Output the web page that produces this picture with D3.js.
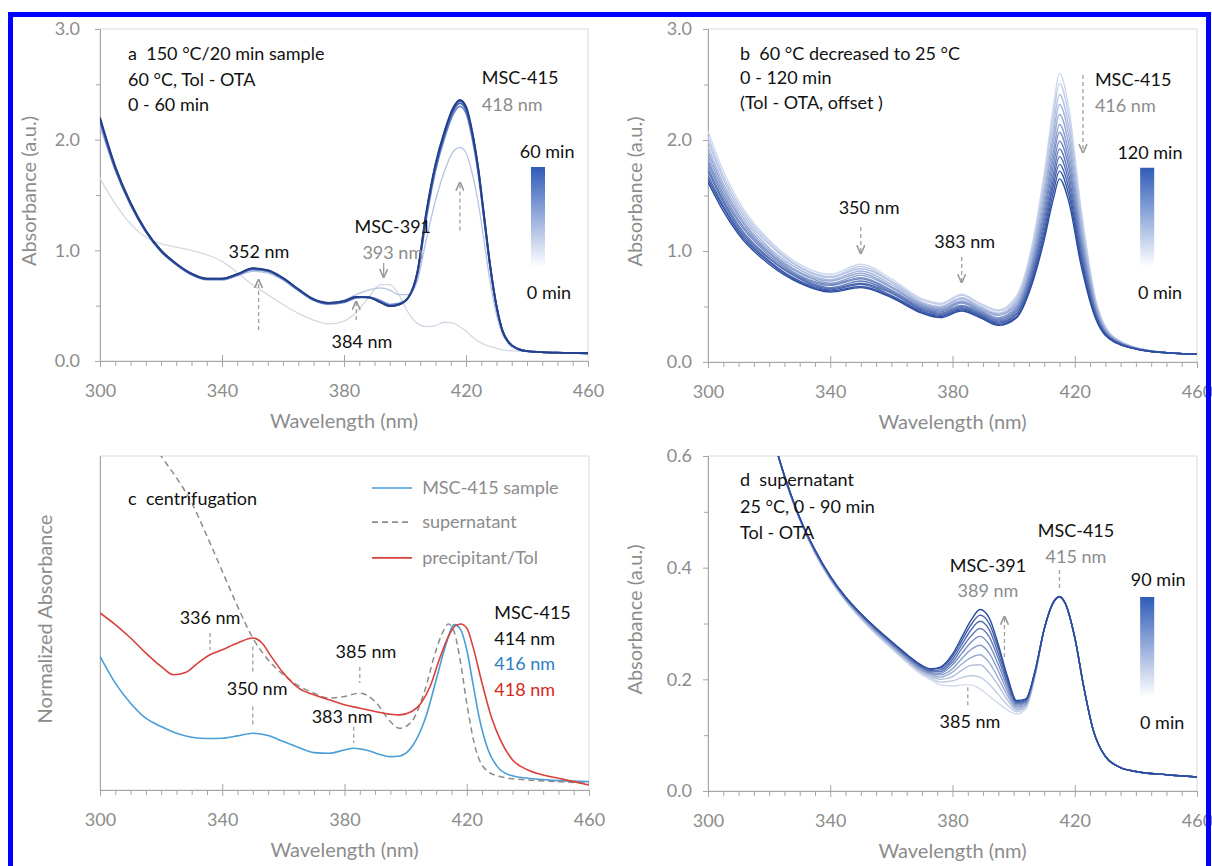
<!DOCTYPE html>
<html>
<head>
<meta charset="utf-8">
<script src="https://cdn.jsdelivr.net/npm/d3@7"></script>
<style>
  body { margin: 0; background: #fff; overflow: hidden; }
  svg text { font-family: Lato, "Open Sans", sans-serif; white-space: pre; }
</style>
</head>
<body>
<div id="chart"></div>
<script>
// ---------- Data ----------
const xTicks = [300, 340, 380, 420, 460];
const xMinor = d3.range(300, 461, 5).filter(v => !xTicks.includes(v));

// panel a: 60 °C, 0 - 60 min
const wlA = [300,305,310,315,320,325,330,335,340,345,350,355,360,365,370,375,380,384,388,392,395,398,401,404,407,410,413,416,418,420,422,424,426,428,430,432,434,437,440,450,460];
const a0min  = [1.65,1.42,1.24,1.12,1.06,1.03,1.00,0.96,0.90,0.80,0.69,0.60,0.51,0.43,0.37,0.335,0.36,0.44,0.57,0.69,0.69,0.60,0.44,0.34,0.31,0.32,0.35,0.34,0.31,0.27,0.22,0.18,0.15,0.13,0.115,0.10,0.095,0.09,0.085,0.075,0.07];
const a10min = [2.12,1.72,1.41,1.17,0.99,0.875,0.785,0.74,0.735,0.77,0.81,0.795,0.73,0.635,0.55,0.52,0.55,0.60,0.64,0.66,0.64,0.60,0.60,0.72,1.10,1.45,1.72,1.90,1.93,1.88,1.70,1.43,1.07,0.70,0.42,0.24,0.15,0.10,0.085,0.075,0.07];
const a30min = [2.16,1.73,1.41,1.17,0.99,0.87,0.78,0.735,0.735,0.775,0.825,0.81,0.74,0.64,0.55,0.515,0.53,0.57,0.58,0.545,0.51,0.52,0.57,0.77,1.29,1.72,2.02,2.24,2.30,2.24,2.02,1.70,1.26,0.83,0.49,0.27,0.17,0.11,0.09,0.075,0.07];
const a40min = [2.18,1.74,1.42,1.17,0.99,0.875,0.785,0.74,0.74,0.78,0.83,0.815,0.745,0.645,0.555,0.52,0.535,0.575,0.575,0.535,0.50,0.515,0.57,0.78,1.32,1.75,2.05,2.27,2.33,2.27,2.05,1.72,1.28,0.84,0.49,0.27,0.17,0.11,0.09,0.075,0.07];
const a50min = [2.19,1.75,1.43,1.18,1.00,0.88,0.79,0.745,0.745,0.785,0.835,0.82,0.75,0.65,0.56,0.525,0.54,0.58,0.575,0.53,0.495,0.51,0.57,0.79,1.34,1.77,2.07,2.29,2.35,2.29,2.07,1.74,1.29,0.84,0.50,0.27,0.17,0.11,0.09,0.075,0.07];
const a60min = [2.20,1.76,1.43,1.18,1.00,0.88,0.79,0.745,0.745,0.785,0.84,0.82,0.75,0.65,0.56,0.525,0.54,0.58,0.575,0.53,0.495,0.51,0.57,0.80,1.35,1.78,2.08,2.30,2.36,2.30,2.08,1.75,1.30,0.85,0.50,0.27,0.17,0.11,0.09,0.075,0.07];

// panel b: 60 °C decreased to 25 °C, 0 - 120 min
const wlB = [300,305,310,320,330,340,350,360,370,376,383,389,395,401,406,410,413,415,418,422,427,433,445,460];
const b0   = [2.08,1.72,1.45,1.10,0.88,0.79,0.88,0.75,0.57,0.53,0.61,0.53,0.47,0.60,1.05,1.70,2.30,2.60,2.30,1.40,0.55,0.22,0.10,0.07];
const b10  = [2.03,1.68,1.42,1.08,0.86,0.77,0.86,0.73,0.56,0.52,0.60,0.52,0.46,0.58,1.02,1.64,2.22,2.51,2.22,1.35,0.53,0.22,0.10,0.07];
const b20  = [1.99,1.65,1.39,1.06,0.85,0.76,0.84,0.72,0.54,0.50,0.58,0.50,0.44,0.56,0.98,1.58,2.13,2.41,2.13,1.30,0.52,0.21,0.10,0.07];
const b30  = [1.94,1.61,1.36,1.03,0.83,0.74,0.82,0.70,0.53,0.49,0.57,0.49,0.43,0.54,0.95,1.52,2.05,2.32,2.05,1.24,0.50,0.21,0.10,0.07];
const b40  = [1.90,1.58,1.33,1.01,0.81,0.73,0.80,0.68,0.52,0.48,0.55,0.48,0.42,0.52,0.91,1.47,1.98,2.23,1.97,1.20,0.48,0.20,0.10,0.07];
const b50  = [1.86,1.55,1.31,0.99,0.80,0.71,0.78,0.67,0.51,0.47,0.54,0.47,0.40,0.50,0.88,1.41,1.90,2.14,1.89,1.15,0.47,0.20,0.10,0.07];
const b60  = [1.82,1.52,1.28,0.98,0.78,0.70,0.76,0.65,0.50,0.46,0.53,0.46,0.39,0.49,0.85,1.36,1.84,2.07,1.82,1.11,0.45,0.20,0.095,0.07];
const b70  = [1.79,1.49,1.26,0.96,0.77,0.69,0.75,0.64,0.49,0.45,0.51,0.45,0.38,0.47,0.83,1.32,1.77,1.99,1.76,1.07,0.44,0.19,0.095,0.07];
const b80  = [1.75,1.46,1.23,0.94,0.76,0.67,0.73,0.63,0.48,0.44,0.50,0.44,0.37,0.46,0.80,1.27,1.70,1.92,1.69,1.03,0.43,0.19,0.095,0.07];
const b90  = [1.72,1.44,1.21,0.93,0.75,0.66,0.71,0.62,0.47,0.43,0.49,0.43,0.36,0.44,0.77,1.23,1.64,1.85,1.63,0.99,0.42,0.19,0.095,0.07];
const b100 = [1.68,1.41,1.19,0.91,0.73,0.65,0.70,0.60,0.46,0.42,0.48,0.42,0.35,0.43,0.75,1.18,1.59,1.78,1.57,0.95,0.40,0.19,0.095,0.07];
const b110 = [1.65,1.39,1.17,0.90,0.72,0.64,0.68,0.59,0.45,0.41,0.47,0.41,0.34,0.41,0.72,1.14,1.53,1.72,1.51,0.92,0.39,0.18,0.095,0.07];
const b120 = [1.62,1.36,1.15,0.88,0.71,0.63,0.67,0.58,0.44,0.40,0.46,0.40,0.33,0.40,0.70,1.10,1.47,1.65,1.45,0.88,0.38,0.18,0.095,0.07];

// panel c: centrifugation (normalized)
const wlSample = [300,305,310,315,320,325,330,335,340,345,350,355,360,365,370,375,380,383,387,391,395,398,401,404,407,410,413,416,418,420,422,424,427,430,434,440,450,460];
const cSample  = [.40,.32,.26,.215,.19,.17,.158,.154,.155,.162,.17,.163,.145,.127,.112,.11,.12,.125,.12,.108,.10,.102,.118,.16,.23,.33,.43,.495,.48,.42,.32,.22,.12,.07,.045,.035,.028,.025];
const wlSuper  = [316,320,325,330,335,340,345,350,355,360,365,370,375,380,385,390,395,398,402,406,410,412,414,416,418,420,423,427,432,440,450,460];
const cSuper   = [1.06,1.0,.935,.86,.76,.655,.55,.455,.39,.345,.312,.29,.275,.28,.29,.265,.205,.185,.205,.29,.42,.47,.497,.47,.38,.26,.12,.055,.038,.03,.025,.02];
const wlPrecip = [300,305,310,315,320,324,328,332,336,340,345,350,353,356,360,365,370,375,380,385,390,395,398,402,405,408,411,414,416,418,420,422,425,428,431,435,440,445,450,460];
const cPrecip  = [.53,.495,.455,.41,.37,.345,.352,.38,.405,.42,.44,.455,.44,.40,.35,.305,.285,.27,.255,.245,.235,.227,.225,.235,.26,.31,.39,.46,.49,.497,.485,.43,.32,.22,.15,.09,.06,.045,.035,.015];
const cLegend  = ["MSC-415 sample", "supernatant", "precipitant/Tol"];

// panel d: supernatant, 25 °C, 0 - 90 min
const wlD = [323,325,330,335,340,345,350,355,360,365,370,373,376,380,383,386,389,392,395,398,401,404,407,410,413,415,417,420,423,426,430,435,440,450,460];
const d0  = [.600,.562,.485,.425,.378,.340,.308,.280,.255,.230,.208,.199,.190,.188,.190,.190,.183,.170,.157,.145,.138,.147,.205,.290,.338,.348,.335,.275,.185,.110,.062,.042,.035,.029,.025];
const d10 = [.600,.562,.486,.426,.379,.341,.310,.282,.257,.232,.211,.202,.195,.197,.203,.207,.204,.191,.173,.154,.142,.150,.207,.290,.338,.348,.335,.275,.185,.110,.062,.042,.035,.029,.025];
const d20 = [.600,.563,.487,.427,.380,.342,.311,.284,.259,.235,.213,.205,.200,.205,.216,.225,.226,.212,.189,.163,.145,.152,.208,.290,.338,.348,.335,.275,.185,.110,.062,.042,.035,.029,.025];
const d30 = [.600,.563,.487,.428,.381,.343,.312,.285,.261,.236,.215,.208,.204,.213,.227,.239,.244,.230,.202,.171,.148,.155,.209,.290,.338,.348,.335,.275,.185,.110,.062,.042,.035,.029,.025];
const d40 = [.600,.564,.488,.429,.382,.344,.314,.287,.262,.238,.217,.210,.208,.219,.237,.253,.261,.247,.215,.178,.151,.157,.211,.290,.338,.348,.335,.275,.185,.110,.062,.042,.035,.029,.025];
const d50 = [.600,.564,.488,.430,.383,.345,.315,.288,.264,.240,.219,.212,.211,.226,.246,.266,.277,.262,.226,.185,.154,.159,.212,.290,.338,.348,.335,.275,.185,.110,.062,.042,.035,.029,.025];
const d60 = [.600,.564,.489,.430,.383,.346,.316,.289,.265,.241,.221,.214,.214,.231,.255,.277,.291,.276,.237,.191,.156,.161,.213,.290,.338,.348,.335,.275,.185,.110,.062,.042,.035,.029,.025];
const d70 = [.600,.565,.489,.431,.384,.347,.317,.290,.266,.243,.222,.216,.217,.236,.262,.288,.304,.289,.246,.196,.158,.162,.214,.290,.338,.348,.335,.275,.185,.110,.062,.042,.035,.029,.025];
const d80 = [.600,.565,.490,.432,.385,.347,.317,.291,.267,.244,.224,.218,.220,.241,.269,.297,.315,.300,.255,.201,.160,.164,.214,.290,.338,.348,.335,.275,.185,.110,.062,.042,.035,.029,.025];
const d90 = [.600,.565,.490,.432,.385,.348,.318,.292,.268,.245,.225,.219,.222,.245,.275,.305,.325,.310,.262,.205,.162,.165,.215,.290,.338,.348,.335,.275,.185,.110,.062,.042,.035,.029,.025];

// ---------- Layout ----------
const width = 1212, height = 866;
const grey = "#8c8c8c", axisGrey = "#a6a6a6";

const svg = d3.select("#chart").append("svg")
  .attr("width", width).attr("height", height);
const defs = svg.append("defs");

defs.append("marker").attr("id", "arrow")
  .attr("viewBox", "0 0 8 8").attr("refX", 7).attr("refY", 4)
  .attr("markerWidth", 7).attr("markerHeight", 7).attr("orient", "auto")
  .append("path").attr("d", "M0,0.5 L8,4 L0,7.5").attr("fill", "none")
  .attr("stroke", "#999").attr("stroke-width", 1.4);

const grad = defs.append("linearGradient").attr("id", "cbar")
  .attr("x1", 0).attr("y1", 0).attr("x2", 0).attr("y2", 1);
grad.append("stop").attr("offset", "0%").attr("stop-color", "#2f5cb8");
grad.append("stop").attr("offset", "100%").attr("stop-color", "#ffffff");

const panels = [
  { id: "a", x0: 100, x1: 588, top: 29, bottom: 361, yDomain: [0, 3], yMajor: [0, 1, 2, 3], yMinor: [0.5, 1.5, 2.5], gap: 20, yTitle: "Absorbance (a.u.)", titleX: 29 },
  { id: "b", x0: 708, x1: 1197, top: 29, bottom: 362, yDomain: [0, 3], yMajor: [0, 1, 2, 3], yMinor: [0.5, 1.5, 2.5], gap: 16, yTitle: "Absorbance (a.u.)", titleX: 635 },
  { id: "c", x0: 100, x1: 589, top: 456, bottom: 790, yDomain: [0, 1], yMajor: [], yMinor: [], gap: 16, yTitle: "Normalized Absorbance", titleX: 45 },
  { id: "d", x0: 708, x1: 1197, top: 456, bottom: 791, yDomain: [0, 0.6], yMajor: [0, 0.2, 0.4, 0.6], yMinor: [0.1, 0.3, 0.5], gap: 16, yTitle: "Absorbance (a.u.)", titleX: 635 }
];

function styleAxis(sel) {
  sel.select(".domain").attr("stroke", axisGrey);
  sel.selectAll(".tick line").attr("stroke", axisGrey);
  sel.selectAll(".tick text").attr("fill", grey).style("font-size", "18px");
}

function setupPanel(p) {
  const g = svg.append("g");
  const x = d3.scaleLinear().domain([300, 460]).range([p.x0, p.x1]);
  const y = d3.scaleLinear().domain(p.yDomain).range([p.bottom, p.top]);

  g.append("rect")
    .attr("x", p.x0).attr("y", p.top)
    .attr("width", p.x1 - p.x0).attr("height", p.bottom - p.top)
    .attr("fill", "none").attr("stroke", "#d9d9d9");

  defs.append("clipPath").attr("id", "clip-" + p.id)
    .append("rect").attr("x", p.x0).attr("y", p.top)
    .attr("width", p.x1 - p.x0).attr("height", p.bottom - p.top);

  // y axis
  const ya = g.append("g").attr("transform", `translate(${p.x0},0)`)
    .call(d3.axisLeft(y).tickValues(p.yMajor).tickSize(5).tickSizeOuter(0)
      .tickPadding(p.gap - 5).tickFormat(d3.format(".1f")));
  styleAxis(ya);
  const yb = g.append("g").attr("transform", `translate(${p.x0},0)`)
    .call(d3.axisLeft(y).tickValues(p.yMinor).tickSize(4).tickSizeOuter(0).tickFormat(""));
  styleAxis(yb);

  // x axis: crossing major ticks, outward minor ticks
  const xa = g.append("g").attr("transform", `translate(0,${p.bottom})`)
    .call(d3.axisBottom(x).tickValues(xTicks).tickSize(6).tickSizeOuter(0)
      .tickPadding(17).tickFormat(d3.format("d")));
  styleAxis(xa);
  const xb = g.append("g").attr("transform", `translate(0,${p.bottom})`)
    .call(d3.axisTop(x).tickValues(xTicks.slice(1, -1)).tickSize(6).tickSizeOuter(0).tickFormat(""));
  styleAxis(xb);
  xb.select(".domain").remove();
  const xc = g.append("g").attr("transform", `translate(0,${p.bottom})`)
    .call(d3.axisBottom(x).tickValues(xMinor).tickSize(5).tickSizeOuter(0).tickFormat(""));
  styleAxis(xc);
  xc.select(".domain").remove();

  // titles
  g.append("text").attr("x", (p.x0 + p.x1) / 2).attr("y", p.bottom + 60).attr("dy", "0.35em")
    .attr("text-anchor", "middle").attr("fill", grey).style("font-size", "20px").text("Wavelength (nm)");
  g.append("text").attr("transform", `translate(${p.titleX},${(p.top + p.bottom) / 2 - 4}) rotate(-90)`)
    .attr("dy", "0.35em").attr("text-anchor", "middle").attr("fill", grey)
    .style("font-size", "20px").text(p.yTitle);

  const plot = g.append("g").attr("clip-path", `url(#clip-${p.id})`);
  const ann = g.append("g");
  return { g, x, y, plot, ann };
}

function drawCurves(pp, series) {
  const line = d3.line().x(d => pp.x(d[0])).y(d => pp.y(d[1])).curve(d3.curveMonotoneX);
  pp.plot.selectAll("path.curve").data(series).join("path")
    .attr("class", "curve")
    .attr("d", s => line(d3.zip(s.wl, s.v)))
    .attr("fill", "none")
    .attr("stroke", s => s.color)
    .attr("stroke-width", s => s.w)
    .attr("stroke-dasharray", s => s.dash || null)
    .attr("stroke-linejoin", "round");
}

function label(pp, wl, val, txt, o = {}) {
  pp.ann.append("text")
    .attr("x", pp.x(wl)).attr("y", pp.y(val)).attr("dy", "0.35em")
    .attr("text-anchor", o.anchor || "start")
    .attr("fill", o.color || "#111")
    .style("font-size", (o.size || 18) + "px")
    .text(txt);
}

function arrow(pp, wl, v1, v2, o = {}) {
  pp.ann.append("line")
    .attr("x1", pp.x(wl)).attr("x2", pp.x(wl))
    .attr("y1", pp.y(v1)).attr("y2", pp.y(v2))
    .attr("stroke", "#a0a0a0").attr("stroke-width", 1.3)
    .attr("stroke-dasharray", o.solid ? null : "4,3")
    .attr("marker-end", o.head === false ? null : "url(#arrow)");
}

function colorbar(pp, wl0, wl1, vTop, vBot) {
  pp.ann.append("rect")
    .attr("x", pp.x(wl0)).attr("y", pp.y(vTop))
    .attr("width", pp.x(wl1) - pp.x(wl0)).attr("height", pp.y(vBot) - pp.y(vTop))
    .attr("fill", "url(#cbar)");
}

const [pa, pb, pc, pd] = panels.map(setupPanel);

// ---------- Panel a ----------
const aSeries = [a0min, a10min, a30min, a40min, a50min, a60min];
const aColors = ["#d3d9e3", "#b5c3e2", "#6d8ccc", "#4766b8", "#34529f", "#253e88"];
const aWidths = [1.3, 1.3, 1.8, 1.8, 1.8, 1.8];
drawCurves(pa, aSeries.map((v, i) => ({ wl: wlA, v, color: aColors[i], w: aWidths[i] })));

label(pa, 309.2, 2.78, "a  150 °C/20 min sample");
label(pa, 309.2, 2.54, "60 °C, Tol - OTA");
label(pa, 309.2, 2.32, "0 - 60 min");
label(pa, 425.2, 2.56, "MSC-415");
label(pa, 425.2, 2.32, "418 nm", { color: grey });
label(pa, 446.6, 1.89, "60 min", { anchor: "middle" });
colorbar(pa, 441.3, 445.9, 1.753, 0.849);
label(pa, 447.2, 0.614, "0 min", { anchor: "middle" });
label(pa, 352.1, 0.985, "352 nm", { anchor: "middle" });
label(pa, 396, 1.21, "MSC-391", { anchor: "middle" });
label(pa, 396, 0.976, "393 nm", { anchor: "middle", color: grey });
arrow(pa, 393, 0.885, 0.76, { solid: true });
arrow(pa, 352, 0.28, 0.73);
arrow(pa, 384, 0.37, 0.535);
label(pa, 385.9, 0.172, "384 nm", { anchor: "middle" });
arrow(pa, 418, 1.18, 1.61);

// ---------- Panel b ----------
const bSeries = [b0, b10, b20, b30, b40, b50, b60, b70, b80, b90, b100, b110, b120];
const bColor = d3.interpolateRgb("#cdd8ef", "#2b4c9f");
drawCurves(pb, bSeries.map((v, i) => ({ wl: wlB, v, color: bColor(i / (bSeries.length - 1)), w: 1.4 })));

label(pb, 310.5, 2.78, "b  60 °C decreased to 25 °C");
label(pb, 310.5, 2.56, "0 - 120 min");
label(pb, 310.5, 2.34, "(Tol - OTA, offset )");
label(pb, 426.6, 2.54, "MSC-415");
label(pb, 426.6, 2.31, "416 nm", { color: grey });
arrow(pb, 422.7, 2.585, 1.89);
label(pb, 444.6, 1.89, "120 min", { anchor: "middle" });
colorbar(pb, 441.4, 446, 1.75, 0.856);
label(pb, 447.9, 0.62, "0 min", { anchor: "middle" });
label(pb, 352.7, 1.39, "350 nm", { anchor: "middle" });
arrow(pb, 350, 1.216, 0.98);
label(pb, 384, 1.08, "383 nm", { anchor: "middle" });
arrow(pb, 383, 0.946, 0.72);

// ---------- Panel c ----------
const cColors = ["#4a9ed6", "#8c8c8c", "#d9403a"];
const cSeries = [
  { wl: wlSample, v: cSample, color: cColors[0], w: 1.6 },
  { wl: wlSuper, v: cSuper, color: cColors[1], w: 1.5, dash: "6,4" },
  { wl: wlPrecip, v: cPrecip, color: cColors[2], w: 1.6 }
];
drawCurves(pc, cSeries);

label(pc, 309.2, 0.871, "c  centrifugation");
const legendRows = [0.904, 0.802, 0.695];
cLegend.forEach((name, i) => {
  pc.ann.append("line")
    .attr("x1", pc.x(389)).attr("x2", pc.x(402.1))
    .attr("y1", pc.y(legendRows[i])).attr("y2", pc.y(legendRows[i]))
    .attr("stroke", cColors[i]).attr("stroke-width", 1.6)
    .attr("stroke-dasharray", cSeries[i].dash || null);
  label(pc, 405.4, legendRows[i], name, { color: grey });
});
label(pc, 336, 0.515, "336 nm", { anchor: "middle" });
arrow(pc, 336, 0.47, 0.42, { head: false });
label(pc, 351.4, 0.302, "350 nm", { anchor: "middle" });
arrow(pc, 350, 0.43, 0.35, { head: false });
arrow(pc, 350, 0.25, 0.19, { head: false });
label(pc, 387, 0.413, "385 nm", { anchor: "middle" });
arrow(pc, 385, 0.368, 0.32, { head: false });
label(pc, 379.2, 0.219, "383 nm", { anchor: "middle" });
arrow(pc, 383, 0.189, 0.141, { head: false });
label(pc, 429, 0.53, "MSC-415");
label(pc, 429, 0.452, "414 nm");
label(pc, 429, 0.377, "416 nm", { color: "#2e7fc4" });
label(pc, 429, 0.299, "418 nm", { color: "#d42a20" });

// ---------- Panel d ----------
const dSeries = [d0, d10, d20, d30, d40, d50, d60, d70, d80, d90];
const dColor = d3.interpolateRgb("#d3dbec", "#2b4c9f");
drawCurves(pd, dSeries.map((v, i) => ({ wl: wlD, v, color: dColor(i / (dSeries.length - 1)), w: 1.4 })));

label(pd, 310.5, 0.557, "d  supernatant");
label(pd, 310.5, 0.509, "25 °C, 0 - 90 min");
label(pd, 310.5, 0.462, "Tol - OTA");
label(pd, 420.4, 0.467, "MSC-415", { anchor: "middle" });
label(pd, 420.4, 0.419, "415 nm", { anchor: "middle", color: grey });
arrow(pd, 415, 0.396, 0.36, { head: false });
label(pd, 391.6, 0.403, "MSC-391", { anchor: "middle" });
label(pd, 391.6, 0.358, "389 nm", { anchor: "middle", color: grey });
arrow(pd, 397, 0.24, 0.312);
label(pd, 447.3, 0.378, "90 min", { anchor: "middle" });
colorbar(pd, 441.4, 446, 0.3475, 0.168);
label(pd, 448.6, 0.122, "0 min", { anchor: "middle" });
label(pd, 385.7, 0.124, "385 nm", { anchor: "middle" });
arrow(pd, 385, 0.186, 0.15, { head: false });

// frame
svg.append("rect").attr("x", 10.5).attr("y", 14.5).attr("width", 1198).attr("height", 900)
  .attr("fill", "none").attr("stroke", "#0000ff").attr("stroke-width", 5);
</script>
</body>
</html>
